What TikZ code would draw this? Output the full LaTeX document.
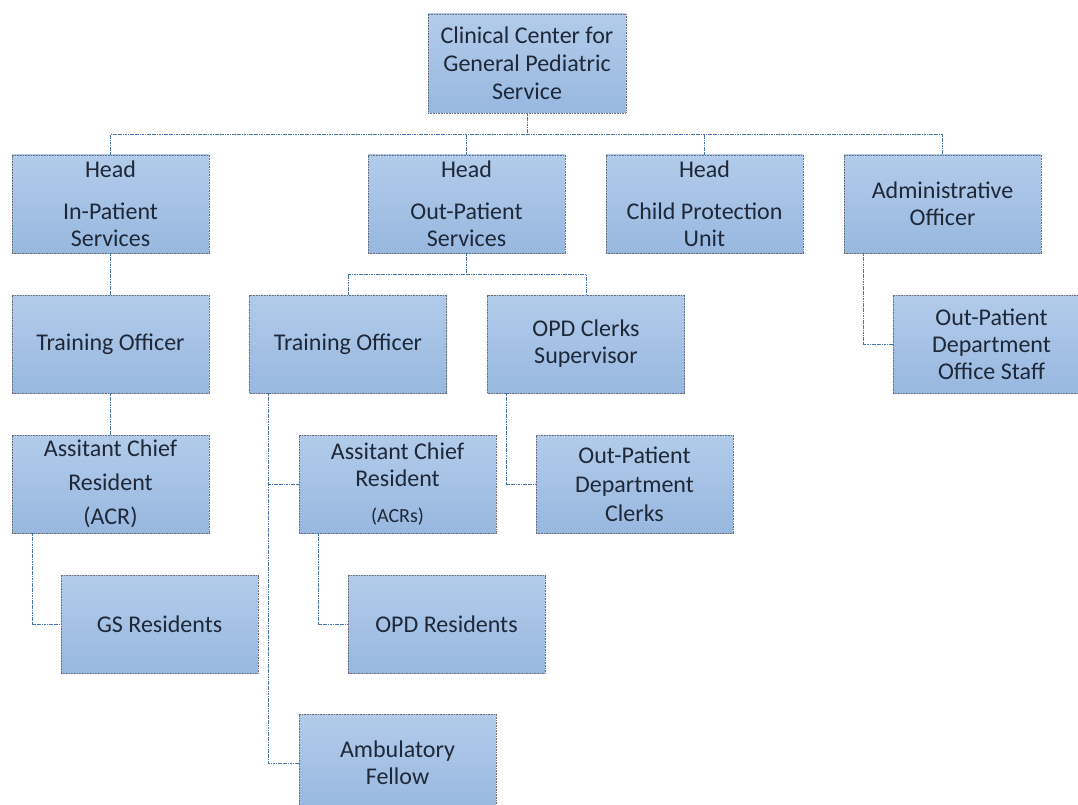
\documentclass[tikz,border=0pt]{standalone}
\usepackage{fontspec}
\setmainfont{Carlito}
\usetikzlibrary{calc}

\definecolor{boxtop}{RGB}{178,203,234}
\definecolor{boxbot}{RGB}{152,184,224}
\definecolor{boxline}{RGB}{105,110,120}
\definecolor{linkcol}{RGB}{70,115,170}
\definecolor{txtcol}{RGB}{30,40,56}

\tikzset{
  orgbox/.style={draw=boxline, dash pattern=on 1pt off 0.6pt, line width=0.7pt,
    top color=boxtop, bottom color=boxbot, text=txtcol,
    minimum width=197pt, minimum height=98pt, inner sep=2pt,
    align=center, font=\fontsize{24}{27}\selectfont},
  link/.style={draw=linkcol, line width=0.9pt, dash pattern=on 1.2pt off 0.5pt}
}

\begin{document}
\begin{tikzpicture}[x=1pt, y=-1pt]
    % frame of the page
    \useasboundingbox (0,0) rectangle (1078,805);
    \clip (0,0) rectangle (1078,805);

    % top of the chart
    \node[orgbox, minimum width=198pt, minimum height=99pt] (cc) at (527,63.5)
        {Clinical Center for\\[1pt]General Pediatric\\[1pt]Service};

    % heads
    \node[orgbox] (hip) at (110.5,204) {Head\\[15pt]In-Patient\\Services};
    \node[orgbox] (hop) at (466.5,204) {Head\\[15pt]Out-Patient\\Services};
    \node[orgbox] (hcp) at (704.5,204) {Head\\[15pt]Child Protection\\Unit};
    \node[orgbox] (ao)  at (942.5,204) {Administrative\\Officer};

    % second level
    \node[orgbox] (toa) at (110.5,344) {Training Officer};
    \node[orgbox] (tob) at (348,344)   {Training Officer};
    \node[orgbox] (sup) at (586,344)   {OPD Clerks\\Supervisor};
    \node[orgbox] (ops) at (991.5,344) {Out-Patient\\Department\\Office Staff};

    % third level
    \node[orgbox] (acra) at (110.5,484) {Assitant Chief\\[7pt]Resident\\[7pt](ACR)};
    \node[orgbox] (acrb) at (397.5,484)
        {Assitant Chief\\Resident\\[9pt]{\fontsize{20}{24}\selectfont(ACRs)}};
    \node[orgbox] (clk)  at (634.5,484) {Out-Patient\\[2pt]Department\\[2pt]Clerks};

    % residents and fellow
    \node[orgbox] (gs)  at (159.5,624.5) {GS Residents};
    \node[orgbox] (opd) at (446.5,624.5) {OPD Residents};
    \node[orgbox] (amb) at (397.5,763)   {Ambulatory\\Fellow};

    % connectors
    \coordinate (bus) at (527,135);
    \draw[link] (cc.south) -- (bus);
    \draw[link] (hip.north) -- ++(0,-20) -| (ao.north);
    \draw[link] (hop.north) -- (hop.north |- bus);
    \draw[link] (hcp.north) -- (hcp.north |- bus);

    \draw[link] (hip.south) -- (toa.north);
    \draw[link] (toa.south) -- (acra.north);
    \draw[link] ($(acra.south west)+(21,0)$) |- (gs.west);

    \coordinate (obus) at (466.5,275);
    \draw[link] (hop.south) -- (obus);
    \draw[link] (tob.north) -- ++(0,-20) -| (sup.north);

    \coordinate (trunk) at ($(tob.south west)+(19,0)$);
    \draw[link] (trunk) |- (amb.west);
    \draw[link] (acrb.west) -- (acrb.west -| trunk);
    \draw[link] ($(acrb.south west)+(20,0)$) |- (opd.west);

    \draw[link] ($(sup.south west)+(19,0)$) |- (clk.west);
    \draw[link] ($(ao.south west)+(20,0)$) |- (ops.west);
\end{tikzpicture}
\end{document}
